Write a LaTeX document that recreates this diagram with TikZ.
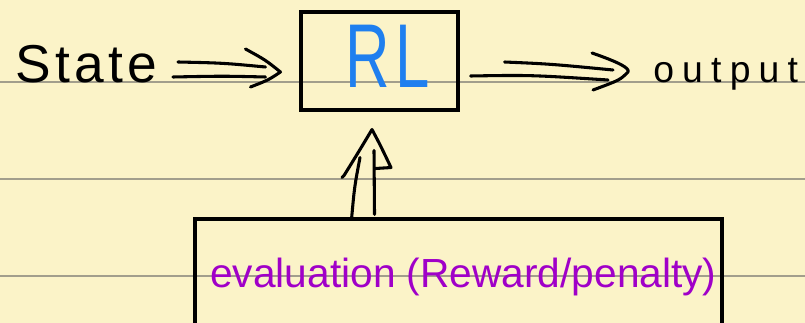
\documentclass[tikz,border=0pt]{standalone}
\usepackage{fontspec}
\setmainfont{Liberation Sans}
\newfontfamily\statefont[LetterSpace=8]{Liberation Sans}
\newfontfamily\outfont[LetterSpace=22]{Liberation Sans}
\usetikzlibrary{calc}
\definecolor{paper}{HTML}{FBF3C8}
\definecolor{ruling}{HTML}{A29E8C}
\definecolor{rlblue}{HTML}{1F7FEF}
\definecolor{evpurple}{HTML}{A000C8}
\begin{document}
\begin{tikzpicture}[x=0.75pt,y=-0.75pt,
  pen/.style={line width=2.3pt,line cap=round,line join=round},
  box/.style={draw,line width=2.3pt,inner sep=0pt},
  hand/.style={inner sep=0pt,anchor=base west}]
\fill[paper] (0,0) rectangle (805,323);
\useasboundingbox (0,0) rectangle (805,323);
\clip (0,0) rectangle (805,323);
\foreach \yy in {82,179,276} \draw[ruling,line width=0.8pt] (0,\yy) -- (805,\yy);

% boxes
\node[box, minimum width=117.75pt, minimum height=73.5pt] (rl) at (379.5,61) {};
\node[box, minimum width=395.25pt, minimum height=90.75pt] (eval) at (458.5,279.5) {};

% texts
\node[inner sep=0pt, anchor=base, text=rlblue, font=\fontsize{68}{68}\selectfont] (rllabel) at (388,88) {\scalebox{0.68}[1]{R\hspace{6pt}L}};
\node[hand, font=\statefont\fontsize{40}{40}\selectfont] (state) at (15,83) {State};
\node[hand, font=\outfont\fontsize{28}{28}\selectfont] (out) at (653,83) {output};
\node[hand, text=evpurple, font=\fontsize{30.5}{30.5}\selectfont] (evaltext) at (210,288) {evaluation (Reward/penalty)};

% arrow state -> RL
\coordinate (s1) at (173,72);
\coordinate (t1) at ($(rl.west)+(-19,11)$);
\draw[pen] ($(s1)+(5,-10)$) .. controls ($(s1)+(50,-9)$) .. ($(t1)+(-15,-5)$);
\draw[pen] ($(s1)+(0,5)$) .. controls ($(s1)+(50,4)$) .. ($(t1)+(-15,5)$);
\draw[pen] ($(t1)+(-35,-23)$) .. controls ($(t1)+(-15,-12)$) .. (t1) .. controls ($(t1)+(-12,8)$) .. ($(t1)+(-30,15)$);

% arrow RL -> output
\coordinate (s2) at ($(rl.east)+(11,15)$);
\coordinate (t2) at (628,72);
\draw[pen] ($(s2)+(34,-14)$) .. controls ($(s2)+(80,-12)$) .. ($(t2)+(-15,-2)$);
\draw[pen] (s2) .. controls ($(s2)+(60,-1)$) .. ($(t2)+(-20,8)$);
\draw[pen] ($(t2)+(-36,-19)$) .. controls ($(t2)+(-10,-10)$) and ($(t2)+(2,-4)$) .. (t2) .. controls ($(t2)+(-8,8)$) .. ($(t2)+(-35,18)$);

% arrow eval -> RL
\coordinate (s3) at ($(eval.north)+(-96,-1)$);
\coordinate (t3) at ($(rl.south)+(-7.5,18)$);
\draw[pen] ($(s3)+(-11,3)$) .. controls ($(s3)+(-8,-30)$) .. ($(t3)+(-12,28)$);
\draw[pen] ($(s3)+(12,-2)$) -- ($(t3)+(2,21)$);
\draw[pen] ($(t3)+(-30,48)$) -- ($(t3)+(-28,46)$) .. controls ($(t3)+(-15,25)$) .. (t3) .. controls ($(t3)+(8,15)$) .. ($(t3)+(19,38)$) -- ($(t3)+(3,39)$);
\end{tikzpicture}
\end{document}
